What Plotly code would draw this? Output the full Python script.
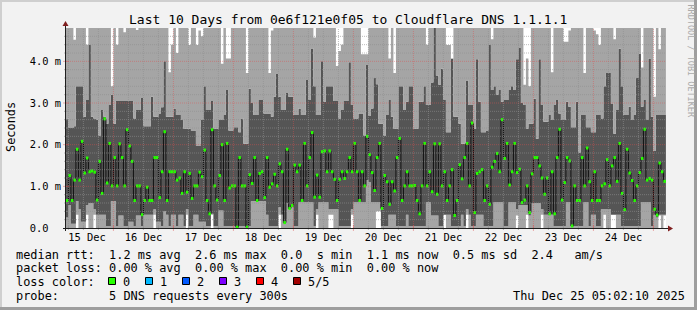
import numpy as np
import pandas as pd
import plotly.graph_objects as go

# ---------------- data: 240 hourly bins, values in ms ----------------
median_ms = [
    0.66, 1.26, 0.66, 1.15, 1.89, 1.15, 2.08, 1.32, 1.68, 1.35,
    1.37, 1.34, 0.67, 1.60, 0.83, 2.62, 1.08, 2.03, 1.01, 1.69,
    1.01, 2.02, 1.69, 1.01, 2.36, 1.97, 1.60, 0.66, 1.01, 1.01,
    0.32, 0.66, 0.98, 0.66, 0.66, 1.69, 1.69, 0.73, 1.35, 2.31,
    0.66, 1.35, 1.35, 1.35, 1.15, 1.20, 0.83, 1.35, 0.86, 1.31,
    0.71, 1.01, 1.01, 1.34, 1.23, 1.87, 0.66, 0.34, 2.36, 1.01,
    0.67, 1.26, 2.00, 0.66, 2.03, 0.96, 1.01, 1.01, 0.02, 1.69,
    1.01, 1.01, 0.02, 1.28, 1.07, 1.69, 0.66, 1.31, 1.35, 0.73,
    1.69, 0.98, 1.06, 1.29, 1.01, 1.54, 1.35, 0.13, 1.89, 0.47,
    0.54, 1.51, 1.35, 1.51, 0.66, 2.03, 1.01, 1.69, 2.29, 0.74,
    1.27, 0.74, 1.83, 1.85, 1.35, 1.85, 1.35, 1.17, 0.66, 1.17,
    1.35, 1.19, 1.35, 1.69, 1.35, 2.03, 1.35, 0.66, 1.35, 1.01,
    2.20, 1.76, 1.33, 0.90, 1.69, 2.03, 0.47, 1.26, 1.11, 0.57,
    1.11, 0.89, 1.69, 2.15, 0.66, 1.01, 1.35, 1.01, 1.01, 1.02,
    0.66, 0.34, 1.01, 2.03, 1.01, 1.35, 0.87, 2.02, 0.81, 2.02,
    1.01, 1.35, 0.66, 1.01, 1.40, 0.30, 0.66, 1.52, 1.18, 1.69,
    2.03, 1.01, 2.52, 0.37, 1.31, 1.35, 1.40, 0.66, 1.01, 0.57,
    1.46, 1.60, 1.79, 1.35, 2.60, 1.67, 2.03, 1.03, 1.35, 2.03,
    1.33, 1.41, 0.61, 0.67, 1.01, 0.37, 1.30, 1.69, 1.69, 1.49,
    1.20, 0.81, 1.20, 0.34, 1.35, 0.34, 1.69, 2.37, 0.67, 1.09,
    1.69, 1.61, 0.05, 1.01, 0.66, 0.66, 1.69, 1.01, 1.92, 1.11,
    0.66, 1.35, 0.66, 0.66, 1.01, 1.06, 1.64, 1.01, 1.49, 1.69,
    1.12, 2.03, 0.83, 0.44, 1.89, 1.32, 1.14, 0.66, 1.01, 1.33,
    1.67, 2.37, 1.15, 1.19, 1.15, 0.45, 0.31, 1.56, 1.35, 1.12,
]

# lowest ping of each bin (white below it)
ping1_ms = [
    0, 0, 0, 0, 0.32, 0, 0, 0, 0.32, 0,
    0, 0.32, 0, 0, 0, 0, 0, 0, 0, 0,
    0, 0, 0, 0, 0, 0, 0, 0, 0, 0,
    0, 0, 0, 0, 0, 0.32, 0, 0, 0, 0,
    0, 0, 0, 0, 0, 0, 0, 0, 0.32, 0,
    0, 0, 0, 0, 0, 0, 0, 0, 0.32, 0,
    0, 0, 0, 0, 0, 0, 0, 0, 0, 0,
    0, 0, 0, 0, 0, 0, 0, 0, 0, 0,
    0, 0, 0, 0, 0, 0.32, 0, 0, 0, 0,
    0, 0, 0, 0, 0, 0, 0, 0, 0, 0,
    0.32, 0, 0, 0, 0, 0.32, 0.32, 0, 0, 0,
    0, 0, 0, 0, 0.32, 0, 0, 0, 0, 0,
    0, 0, 0, 0, 0.40, 0.40, 0, 0, 0, 0,
    0, 0, 0, 0, 0, 0, 0, 0, 0, 0,
    0, 0, 0, 0, 0, 0, 0, 0, 0, 0,
    0, 0.32, 0, 0, 0, 0, 0, 0, 0, 0,
    0.32, 0, 0, 0, 0, 0, 0, 0, 0, 0,
    0, 0, 0, 0, 0, 0, 0, 0, 0, 0,
    0.30, 0, 0, 0, 0.32, 0, 0, 0, 0, 0,
    0.32, 0, 0, 0, 0, 0, 0, 0, 0, 0,
    0, 0, 0, 0, 0, 0, 0, 0, 0, 0,
    0, 0, 0, 0, 0, 0.32, 0, 0, 0.32, 0.32,
    0, 0, 0, 0, 0, 0, 0, 0, 0, 0,
    0, 0, 0, 0, 0, 0, 0, 0.30, 0, 0.30,
]

# second ping (bottom of dark band)
ping2_ms = [
    0.25, 0.55, 0.10, 0.10, 0.65, 0.45, 0.15, 0.15, 0.55, 0.60,
    0.60, 0.45, 0.32, 0.32, 0.32, 0.32, 0.05, 0.05, 0.65, 0.65,
    0.05, 0.30, 0.30, 0.05, 0.05, 0.15, 0.15, 0.05, 0.30, 0.30,
    0.05, 0.32, 0.32, 0.32, 0.32, 0.45, 0.15, 0.15, 0.05, 0.40,
    0.32, 0.05, 0.32, 0.32, 0.05, 0.32, 0.32, 0.05, 0.45, 0.05,
    0.05, 0.32, 0.32, 0.15, 0.15, 0.15, 0.05, 0.05, 0.34, 0.05,
    0.05, 0.42, 0.42, 0.05, 0.05, 0.05, 0.05, 0.05, 0.02, 0.05,
    0.05, 0.05, 0.02, 0.05, 0.65, 0.65, 0.65, 0.65, 0.65, 0.65,
    0.32, 0.05, 0.05, 0.05, 0.05, 0.50, 0.32, 0.10, 0.60, 0.45,
    0.50, 0.05, 0.05, 0.62, 0.62, 0.62, 0.62, 0.62, 0.62, 0.05,
    0.45, 0.62, 0.62, 0.62, 0.62, 0.45, 0.45, 0.45, 0.45, 0.05,
    0.05, 0.05, 0.05, 0.05, 0.45, 0.62, 0.62, 0.62, 0.62, 0.62,
    1.15, 1.10, 0.62, 0.62, 0.62, 0.62, 0.05, 0.05, 0.05, 0.32,
    0.32, 0.32, 0.05, 0.05, 0.05, 0.05, 0.32, 0.05, 0.05, 0.05,
    0.05, 0.05, 0.05, 0.05, 0.62, 0.62, 0.30, 0.30, 0.30, 0.05,
    0.05, 0.32, 0.32, 0.32, 0.05, 0.05, 0.05, 0.05, 0.32, 0.05,
    0.45, 0.32, 0.05, 0.05, 0.32, 0.32, 0.32, 0.05, 0.05, 0.05,
    0.05, 0.62, 0.62, 0.62, 0.62, 0.05, 0.05, 0.62, 0.62, 0.62,
    0.45, 0.55, 0.55, 0.55, 0.55, 0.30, 0.60, 0.60, 0.60, 0.60,
    0.45, 0.32, 0.32, 0.32, 0.32, 0.05, 0.05, 0.05, 0.05, 0.05,
    0.62, 0.62, 0.03, 0.05, 0.05, 0.05, 0.05, 0.62, 0.62, 0.05,
    0.32, 0.32, 0.05, 0.05, 0.45, 0.45, 0.45, 0.45, 0.32, 0.32,
    0.32, 0.32, 0.05, 0.05, 0.05, 0.05, 0.05, 0.05, 0.05, 0.05,
    0.62, 0.62, 0.62, 0.62, 0.05, 0.32, 0.25, 0.32, 0.32, 0.32,
]

# fourth ping (top of dark band)
ping4_ms = [
    2.63, 2.40, 2.40, 2.44, 3.40, 3.40, 3.40, 2.67, 3.07, 4.39,
    2.67, 2.63, 2.60, 2.22, 2.83, 2.67, 2.50, 2.95, 3.20, 2.50,
    3.05, 3.05, 3.05, 3.05, 3.05, 3.05, 3.05, 2.63, 2.83, 2.83,
    3.12, 2.44, 2.44, 2.44, 3.15, 2.67, 2.67, 2.75, 2.90, 4.00,
    2.67, 2.67, 2.67, 2.87, 2.71, 2.71, 2.59, 2.38, 2.38, 2.38,
    2.34, 2.34, 1.98, 1.98, 2.59, 3.40, 2.83, 2.83, 3.05, 2.38,
    2.38, 2.59, 2.59, 2.71, 3.31, 2.34, 2.34, 2.42, 2.42, 2.30,
    2.63, 2.02, 2.02, 3.34, 3.00, 2.71, 2.71, 3.07, 3.07, 2.75,
    2.75, 2.75, 2.67, 3.15, 3.71, 3.15, 2.83, 2.83, 3.24, 3.15,
    3.15, 2.71, 2.71, 2.87, 2.71, 2.71, 3.55, 3.07, 4.31, 3.40,
    2.71, 2.71, 4.00, 3.03, 3.40, 3.40, 3.40, 3.05, 3.05, 2.63,
    2.83, 3.05, 3.05, 3.98, 2.95, 2.63, 2.63, 2.75, 2.75, 2.22,
    3.91, 2.69, 2.87, 3.60, 3.45, 2.50, 2.50, 2.22, 2.71, 3.07,
    2.67, 2.38, 2.38, 3.40, 3.40, 2.83, 3.03, 3.40, 3.40, 2.38,
    2.38, 3.03, 3.03, 3.40, 2.95, 2.95, 3.49, 4.88, 3.66, 3.44,
    3.82, 3.07, 2.30, 2.30, 4.06, 2.67, 2.67, 2.50, 2.02, 2.02,
    3.54, 2.95, 2.95, 2.38, 4.05, 3.03, 2.30, 2.30, 2.34, 4.39,
    3.31, 3.40, 3.20, 3.31, 3.03, 3.07, 3.07, 3.31, 3.40, 3.31,
    4.05, 4.32, 3.00, 2.95, 2.38, 2.50, 2.50, 3.10, 2.14, 4.05,
    2.95, 2.55, 2.55, 2.71, 2.59, 2.95, 3.07, 2.75, 2.59, 2.59,
    3.03, 2.91, 2.42, 2.42, 3.03, 1.81, 2.71, 2.71, 2.42, 2.42,
    2.30, 2.30, 2.71, 2.71, 2.63, 3.40, 3.72, 3.72, 2.99, 2.26,
    2.83, 4.30, 3.40, 2.71, 2.71, 2.91, 2.59, 2.71, 3.60, 4.18,
    2.91, 3.07, 2.59, 4.07, 2.67, 1.85, 2.71, 2.71, 2.71, 2.71,
]

# highest ping (white above it; 5.0 = off the top of the chart)
ping5_ms = [
    5, 5, 5, 4.52, 5, 5, 5, 5, 4.40, 5,
    5, 5, 5, 5, 5, 5, 5, 5, 3.40, 5,
    4.40, 5, 5, 4.70, 5, 5, 5, 5, 4.75, 5,
    5, 5, 5, 5, 5, 5, 5, 5, 5, 5,
    5, 3.74, 4.40, 5, 4.20, 5, 5, 5, 5, 4.39,
    5, 5, 4.39, 4.74, 4.60, 5, 5, 5, 5, 5,
    5, 5, 3.94, 5, 4.07, 4.07, 5, 5, 5, 5,
    5, 5, 3.72, 5, 5, 5, 5, 5, 5, 5,
    5, 3.72, 4.74, 5, 5, 5, 5, 5, 5, 5,
    5, 5, 5, 5, 5, 5, 5, 5, 5, 4.57,
    5, 5, 5, 5, 5, 5, 5, 5, 3.89, 4.25,
    4.40, 5, 5, 5, 5, 5, 5, 5, 4.17, 4.17,
    4.17, 5, 5, 5, 5, 5, 5, 5, 5, 4.07,
    5, 3.72, 5, 5, 5, 5, 5, 5, 5, 5,
    5, 5, 5, 5, 4.40, 5, 5, 5, 5, 5,
    5, 5, 4.39, 4.39, 4.07, 5, 5, 5, 5, 5,
    5, 5, 5, 5, 5, 5, 5, 5, 5, 5,
    4.53, 5, 5, 5, 5, 5, 5, 5, 5, 5,
    5, 5, 5, 3.44, 4.07, 3.40, 5, 5, 5, 5,
    5, 5, 5, 5, 3.74, 5, 5, 5, 5, 4.47,
    4.47, 4.74, 5, 5, 5, 5, 5, 3.72, 5, 5,
    5, 4.74, 4.65, 4.39, 5, 5, 5, 5, 5, 4.53,
    5, 5, 5, 5, 5, 5, 5, 5, 5, 5,
    3.85, 5, 5, 5, 5, 3.15, 5, 4.29, 5, 5,
]

day_labels = ["15 Dec", "16 Dec", "17 Dec", "18 Dec", "19 Dec",
              "20 Dec", "21 Dec", "22 Dec", "23 Dec", "24 Dec"]
y_tick_vals = [0, 1, 2, 3, 4]
y_tick_text = ["0.0\u00a0\u00a0", "1.0\u00a0m", "2.0\u00a0m", "3.0\u00a0m", "4.0\u00a0m"]
loss_labels = ["0", "1", "2", "3", "4", "5/5"]
loss_colors = ["#26ff00", "#00b8ff", "#0059ff", "#7e00ff", "#ff0000", "#a10000"]

title_text = "Last 10 Days from 0e6f121e0f05 to Cloudflare DNS 1.1.1.1"
legend_rtt = "median rtt:  1.2 ms avg  2.6 ms max  0.0  s min  1.1 ms now  0.5 ms sd  2.4   am/s"
legend_loss = "packet loss: 0.00 % avg  0.00 % max  0.00 % min  0.00 % now"
legend_color = "loss color:"
legend_probe = "probe:       5 DNS requests every 300s"
stamp_text = "Thu Dec 25 05:02:10 2025"

# ---------------- geometry / style ----------------
W, H = 697, 310
L, T, PW, PH = 66, 28, 600, 200
MONO = "DejaVu Sans Mono"
BACK = "#F2F2F2"
LIGHT = "#A5A5A5"
DARK = "#555555"
GRID = "rgba(143,143,143,0.6)"
MGRID = "rgba(222,79,79,0.45)"
AXIS = "#1F1F1F"
ARROW = "#801F1F"
Y_MAX = 4.8


def px(x):
    return (x - L) / PW


def py(y):
    return (T + PH - y) / PH


def nb(s):
    return s.replace(" ", "\u00a0")


med = np.array(median_ms)
p2 = np.minimum(np.array(ping2_ms), med)
p1 = np.minimum(np.array(ping1_ms), p2)
p4 = np.maximum(np.array(ping4_ms), med)
p5 = np.maximum(np.array(ping5_ms), p4)

bin_start = pd.Timestamp("2025-12-15 05:00:00")
edges = bin_start + pd.to_timedelta(np.arange(len(med) + 1), unit="h")
x_start = pd.Timestamp("2025-12-15 05:02:10")
x_end = pd.Timestamp("2025-12-25 05:02:10")


def ext(a):
    return np.append(a, a[-1])


fig = go.Figure()
common = dict(mode="lines", hoverinfo="skip", showlegend=False)
fig.add_trace(go.Scatter(x=edges, y=ext(p1), line=dict(width=0, shape="hv"), **common))
fig.add_trace(go.Scatter(x=edges, y=ext(p2), line=dict(width=0, shape="hv"),
                         fill="tonexty", fillcolor=LIGHT, **common))
fig.add_trace(go.Scatter(x=edges, y=ext(p4), line=dict(width=0, shape="hv"),
                         fill="tonexty", fillcolor=DARK, **common))
fig.add_trace(go.Scatter(x=edges, y=ext(p5), line=dict(width=0, shape="hv"),
                         fill="tonexty", fillcolor=LIGHT, **common))
# median: black step connectors + green loss-colored segments
fig.add_trace(go.Scatter(x=edges, y=ext(med), line=dict(width=1, color="#111111", shape="hv"), **common))
gx, gy = [], []
for i, v in enumerate(med):
    gx += [edges[i], edges[i + 1], None]
    gy += [v, v, None]
fig.add_trace(go.Scatter(x=gx, y=gy, line=dict(width=3, color=loss_colors[0]), **common))

shapes = []
# vertical grid (every 6 h, red at midnight) drawn above data
t = pd.Timestamp("2025-12-15 06:00:00")
while t < x_end:
    major = t.hour == 0
    shapes.append(dict(type="line", xref="x", yref="paper", x0=str(t), x1=str(t), y0=0, y1=1,
                       layer="above", line=dict(color=MGRID if major else GRID, width=1, dash="1px,1px")))
    shapes.append(dict(type="line", xref="x", yref="paper", x0=str(t), x1=str(t),
                       y0=py(231 if major else 230), y1=py(225 if major else 226),
                       layer="above", line=dict(color=MGRID if major else GRID, width=1)))
    t += pd.Timedelta(hours=6)
# horizontal grid (0.2 ms, red every 1 ms)
for k in range(1, 24):
    v = round(0.2 * k, 1)
    major = k % 5 == 0
    shapes.append(dict(type="line", xref="paper", yref="y", x0=0, x1=1, y0=v, y1=v, layer="above",
                       line=dict(color=MGRID if major else GRID, width=1, dash="1px,1px")))
    shapes.append(dict(type="line", xref="paper", yref="y", x0=px(63 if major else 64),
                       x1=px(69 if major else 68), y0=v, y1=v, layer="above",
                       line=dict(color=MGRID if major else GRID, width=1)))
# axes + arrows
shapes.append(dict(type="line", xref="paper", yref="paper", x0=px(63), x1=px(669), y0=py(228.5), y1=py(228.5),
                   layer="above", line=dict(color=AXIS, width=1)))
shapes.append(dict(type="line", xref="paper", yref="paper", x0=px(65.5), x1=px(65.5), y0=py(231), y1=py(25),
                   layer="above", line=dict(color=AXIS, width=1)))
shapes.append(dict(type="path", xref="paper", yref="paper", layer="above",
                   path=f"M {px(668)},{py(225.5)} L {px(673)},{py(228.5)} L {px(668)},{py(231.5)} Z",
                   fillcolor=ARROW, line=dict(width=0)))
shapes.append(dict(type="path", xref="paper", yref="paper", layer="above",
                   path=f"M {px(62.5)},{py(26)} L {px(65.5)},{py(21)} L {px(68.5)},{py(26)} Z",
                   fillcolor=ARROW, line=dict(width=0)))
# frame (3-D border)
shapes.append(dict(type="rect", xref="paper", yref="paper", x0=px(0), x1=px(W), y0=py(0), y1=py(2),
                   fillcolor="#CFCFCF", line=dict(width=0), layer="above"))
shapes.append(dict(type="rect", xref="paper", yref="paper", x0=px(0), x1=px(2), y0=py(0), y1=py(H),
                   fillcolor="#CFCFCF", line=dict(width=0), layer="above"))
shapes.append(dict(type="rect", xref="paper", yref="paper", x0=px(0), x1=px(W), y0=py(H - 3), y1=py(H),
                   fillcolor="#9E9E9E", line=dict(width=0), layer="above"))
shapes.append(dict(type="rect", xref="paper", yref="paper", x0=px(W - 3), x1=px(W), y0=py(0), y1=py(H),
                   fillcolor="#9E9E9E", line=dict(width=0), layer="above"))
# loss colour boxes
for j, c in enumerate(loss_colors):
    bx = 108 + 37 * j
    shapes.append(dict(type="rect", xref="paper", yref="paper", x0=px(bx + 0.5), x1=px(bx + 7.5),
                       y0=py(277.5), y1=py(284.5), fillcolor=c, line=dict(color="#000000", width=1)))

ann = []


def text(s, x, y, size=11.9, xanchor="left", color="#000000", angle=0, yanchor="middle"):
    ann.append(dict(text=nb(s), x=px(x), y=py(y), xref="paper", yref="paper", showarrow=False,
                    xanchor=xanchor, yanchor=yanchor, textangle=angle,
                    font=dict(family=MONO, size=size, color=color), borderpad=0, borderwidth=0))


text(title_text, 347.5, 19, size=13, xanchor="center")
text(legend_rtt, 16, 254.5)
text(legend_loss, 16, 268)
text(legend_color, 16, 281.5)
for j, lab in enumerate(loss_labels):
    text(lab, 123 + 37 * j, 281.5)
text(legend_probe, 16, 295.5)
text(stamp_text, 684.5, 295.5, xanchor="right")
text("Seconds", 11, 127, angle=-90, xanchor="center")
text("RRDTOOL / TOBI OETIKER", 690, 4, size=8.5, color="#AAAAAA", angle=90, xanchor="center", yanchor="top")

# day labels centred at noon (first one kept inside the graph like rrdtool does)
tick_vals = [pd.Timestamp("2025-12-15 12:00") + pd.Timedelta(days=d) for d in range(10)]
tick_vals[0] = tick_vals[0] + pd.Timedelta(hours=1.4)

fig.update_layout(
    width=W, height=H, margin=dict(l=L, r=W - L - PW, t=T, b=H - T - PH),
    paper_bgcolor=BACK, plot_bgcolor="#FFFFFF", showlegend=False,
    shapes=shapes, annotations=ann,
    xaxis=dict(type="date", range=[x_start, x_end], tickvals=tick_vals, ticktext=day_labels,
               ticks="", showgrid=False, zeroline=False, showline=False, ticklabelstandoff=2,
               tickfont=dict(family=MONO, size=10.4, color="#000000")),
    yaxis=dict(range=[0, Y_MAX], tickvals=y_tick_vals, ticktext=y_tick_text, ticks="",
               showgrid=False, zeroline=False, showline=False, ticklabelstandoff=4,
               tickfont=dict(family=MONO, size=10.4, color="#000000")),
)

fig.write_html("out.html")
